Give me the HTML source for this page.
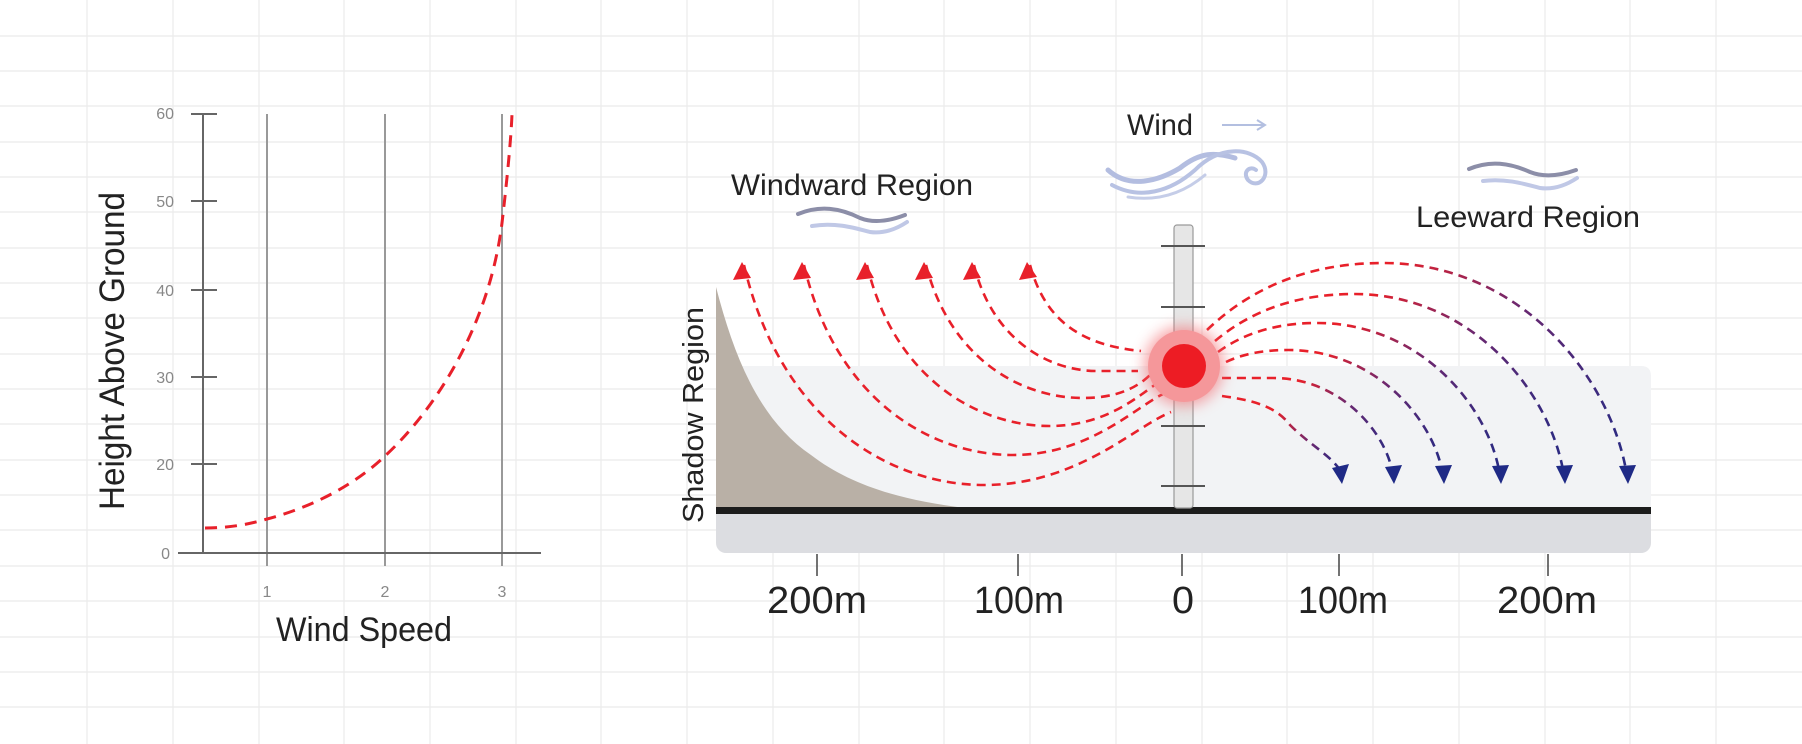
<!DOCTYPE html>
<html><head><meta charset="utf-8"><style>
html,body{margin:0;padding:0;background:#fff;}
svg{display:block;}
text{font-family:"Liberation Sans",sans-serif;}
</style></head><body>
<svg width="1802" height="744" viewBox="0 0 1802 744" xmlns="http://www.w3.org/2000/svg">
<defs>
<linearGradient id="rg" x1="0" y1="0" x2="1" y2="0">
<stop offset="0" stop-color="#e8202a"/><stop offset="0.45" stop-color="#e8202a"/>
<stop offset="0.75" stop-color="#6a2870"/><stop offset="1" stop-color="#2a2a82"/></linearGradient>
<filter id="blur" x="-1" y="-1" width="3" height="3"><feGaussianBlur stdDeviation="7"/></filter>
</defs>
<!-- grid -->
<g stroke="#ebebeb" stroke-width="1.2">
<line x1="87" y1="0" x2="87" y2="744"/><line x1="173" y1="0" x2="173" y2="744"/><line x1="259" y1="0" x2="259" y2="744"/><line x1="344" y1="0" x2="344" y2="744"/><line x1="430" y1="0" x2="430" y2="744"/><line x1="516" y1="0" x2="516" y2="744"/><line x1="601" y1="0" x2="601" y2="744"/><line x1="687" y1="0" x2="687" y2="744"/><line x1="773" y1="0" x2="773" y2="744"/><line x1="859" y1="0" x2="859" y2="744"/><line x1="944" y1="0" x2="944" y2="744"/><line x1="1030" y1="0" x2="1030" y2="744"/><line x1="1116" y1="0" x2="1116" y2="744"/><line x1="1202" y1="0" x2="1202" y2="744"/><line x1="1287" y1="0" x2="1287" y2="744"/><line x1="1373" y1="0" x2="1373" y2="744"/><line x1="1459" y1="0" x2="1459" y2="744"/><line x1="1545" y1="0" x2="1545" y2="744"/><line x1="1630" y1="0" x2="1630" y2="744"/><line x1="1716" y1="0" x2="1716" y2="744"/>
<line x1="0" y1="36" x2="1802" y2="36"/><line x1="0" y1="71" x2="1802" y2="71"/><line x1="0" y1="106" x2="1802" y2="106"/><line x1="0" y1="142" x2="1802" y2="142"/><line x1="0" y1="177" x2="1802" y2="177"/><line x1="0" y1="212" x2="1802" y2="212"/><line x1="0" y1="248" x2="1802" y2="248"/><line x1="0" y1="283" x2="1802" y2="283"/><line x1="0" y1="318" x2="1802" y2="318"/><line x1="0" y1="354" x2="1802" y2="354"/><line x1="0" y1="389" x2="1802" y2="389"/><line x1="0" y1="424" x2="1802" y2="424"/><line x1="0" y1="460" x2="1802" y2="460"/><line x1="0" y1="495" x2="1802" y2="495"/><line x1="0" y1="530" x2="1802" y2="530"/><line x1="0" y1="566" x2="1802" y2="566"/><line x1="0" y1="601" x2="1802" y2="601"/><line x1="0" y1="637" x2="1802" y2="637"/><line x1="0" y1="672" x2="1802" y2="672"/><line x1="0" y1="707" x2="1802" y2="707"/>
</g>
<!-- left chart -->
<g stroke="#999" stroke-width="2"><line x1="267" y1="114" x2="267" y2="566"/><line x1="385" y1="114" x2="385" y2="566"/><line x1="502" y1="114" x2="502" y2="566"/></g>
<g stroke="#666" stroke-width="2">
<line x1="203" y1="114" x2="203" y2="553"/><line x1="178" y1="553" x2="541" y2="553"/>
<line x1="191" y1="114" x2="217" y2="114"/><line x1="191" y1="201" x2="217" y2="201"/><line x1="191" y1="290" x2="217" y2="290"/><line x1="191" y1="377" x2="217" y2="377"/><line x1="191" y1="464" x2="217" y2="464"/></g>
<g fill="#888" font-size="16" text-anchor="end">
<text x="174" y="119">60</text><text x="174" y="207">50</text><text x="174" y="296">40</text><text x="174" y="383">30</text><text x="174" y="470">20</text><text x="170" y="559">0</text></g>
<g fill="#888" font-size="16" text-anchor="middle"><text x="267" y="597">1</text><text x="385" y="597">2</text><text x="502" y="597">3</text></g>
<text x="364" y="641" font-size="34" text-anchor="middle" fill="#222" textLength="176" lengthAdjust="spacingAndGlyphs">Wind Speed</text>
<text transform="translate(124,351) rotate(-90)" font-size="35" text-anchor="middle" fill="#222" textLength="318" lengthAdjust="spacingAndGlyphs">Height Above Ground</text>
<path d="M205,528 C230,528 250,524 267,519 C320,505 360,480 385,456 C440,405 490,320 502,223 C507,180 511,140 512,114" fill="none" stroke="#e8202a" stroke-width="3" stroke-dasharray="12 8"/>
<!-- right diagram -->
<rect x="716" y="490" width="935" height="63" rx="10" fill="#dcdde1"/>
<path d="M716,366 L1641,366 Q1651,366 1651,376 L1651,508 L716,508 Z" fill="#f2f3f5"/>
<path d="M716,287 C735,360 760,420 811,455 C850,485 900,500 965,508 L716,508 Z" fill="#b9b0a6"/>
<rect x="716" y="507" width="935" height="7" fill="#1c1c1c"/>
<!-- pole -->
<rect x="1174" y="225" width="19" height="283" rx="3" fill="#e6e6e6" stroke="#9a9a9a" stroke-width="1.2"/>
<g stroke="#555" stroke-width="2"><line x1="1161" y1="246" x2="1205" y2="246"/><line x1="1161" y1="307" x2="1205" y2="307"/><line x1="1161" y1="426" x2="1205" y2="426"/><line x1="1161" y1="486" x2="1205" y2="486"/></g>
<!-- left arrows -->
<g fill="none" stroke="#e8202a" stroke-width="2.6" stroke-dasharray="9 6">
<path d="M744,265 C780,419 888,485 984,485 C1077,485 1134,427 1171,412"/>
<path d="M804,265 C835,398 929,455 1013,455 C1088,455 1133,409 1163,394"/>
<path d="M867,265 C894,378 977,426 1050,426 C1103,426 1135,399 1156,384"/>
<path d="M926,265 C950,358 1020,398 1083,398 C1118,398 1139,387 1153,372"/>
<path d="M974,265 C992,339 1048,371 1097,371 L1138,371"/>
<path d="M1030,265 C1045,320 1080,345 1141,351"/>
</g>
<g fill="#e8202a">
<polygon points="742,262 733,280 751,278"/><polygon points="802,262 793,280 811,278"/><polygon points="865,262 856,280 874,278"/><polygon points="924,262 915,280 933,278"/><polygon points="972,262 963,280 981,278"/><polygon points="1027,262 1019,280 1037,277"/>
</g>
<!-- right arrows -->
<g fill="none" stroke="url(#rg)" stroke-width="2.6" stroke-dasharray="9 6">
<path d="M1207,330 Q1277,263 1383,263 C1518,263 1608,373 1626,470"/>
<path d="M1215,341 Q1271,294 1354,294 C1470,294 1548,389 1563,470"/>
<path d="M1218,352 Q1258,323 1317,323 C1418,323 1486,403 1499,470"/>
<path d="M1226,362 Q1251,350 1288,350 C1374,350 1431,417 1442,470"/>
<path d="M1222,378 Q1242,378 1273,378 C1340,378 1384,431 1392,470"/>
<path d="M1222,396 C1250,400 1275,405 1290,425 C1310,445 1330,455 1340,470"/>
</g>
<g fill="#1f2a86">
<polygon points="1628,484 1619,466 1636,465"/><polygon points="1565,484 1556,466 1573,465"/><polygon points="1501,484 1492,466 1509,465"/><polygon points="1444,484 1435,466 1452,465"/><polygon points="1394,484 1385,467 1402,465"/><polygon points="1342,484 1332,468 1349,464"/>
</g>
<!-- source -->
<circle cx="1184" cy="366" r="40" fill="#f36b70" opacity="0.6" filter="url(#blur)"/>
<circle cx="1184" cy="366" r="36" fill="#f5979a"/>
<circle cx="1184" cy="366" r="22" fill="#ed1c24"/>
<!-- axis ticks & labels -->
<g stroke="#444" stroke-width="1.5"><line x1="817" y1="554" x2="817" y2="576"/><line x1="1018" y1="554" x2="1018" y2="576"/><line x1="1182" y1="554" x2="1182" y2="576"/><line x1="1339" y1="554" x2="1339" y2="576"/><line x1="1548" y1="554" x2="1548" y2="576"/></g>
<g font-size="38" fill="#222" text-anchor="middle">
<text x="817" y="613" textLength="100" lengthAdjust="spacingAndGlyphs">200m</text><text x="1019" y="613" textLength="90" lengthAdjust="spacingAndGlyphs">100m</text><text x="1183" y="613" textLength="22" lengthAdjust="spacingAndGlyphs">0</text><text x="1343" y="613" textLength="90" lengthAdjust="spacingAndGlyphs">100m</text><text x="1547" y="613" textLength="100" lengthAdjust="spacingAndGlyphs">200m</text></g>
<text x="1160" y="135" font-size="30" fill="#222" text-anchor="middle" textLength="66" lengthAdjust="spacingAndGlyphs">Wind</text>
<g stroke="#b3bfe0" stroke-width="2" fill="none"><line x1="1222" y1="125" x2="1264" y2="125"/><polyline points="1257,120 1265,125 1257,130"/></g>
<text x="852" y="195" font-size="30" fill="#222" text-anchor="middle" textLength="242" lengthAdjust="spacingAndGlyphs">Windward Region</text>
<text x="1528" y="227" font-size="30" fill="#222" text-anchor="middle" textLength="224" lengthAdjust="spacingAndGlyphs">Leeward Region</text>
<text transform="translate(703,415) rotate(-90)" font-size="29" fill="#222" text-anchor="middle" textLength="216" lengthAdjust="spacingAndGlyphs">Shadow Region</text>
<!-- wind swirls -->
<g fill="none" stroke-linecap="round">
<path d="M1108,170 C1130,190 1160,180 1180,168 C1200,152 1215,152 1235,158" stroke="#b3bde0" stroke-width="5"/>
<path d="M1112,185 C1140,200 1170,192 1195,170 C1220,145 1250,148 1262,162 C1272,176 1258,190 1248,180 C1242,172 1250,165 1256,170" stroke="#b8c2e3" stroke-width="4"/>
<path d="M1128,197 C1160,202 1185,192 1205,175" stroke="#c5cde8" stroke-width="3"/>
<path d="M798,214 C820,205 840,208 860,218 C875,224 892,220 905,215" stroke="#8c8ea8" stroke-width="4"/>
<path d="M812,226 C835,222 855,228 870,232 C885,234 898,228 907,222" stroke="#c0c8e6" stroke-width="4"/>
<path d="M1469,169 C1490,160 1510,163 1530,172 C1545,178 1562,175 1576,170" stroke="#8c8ea8" stroke-width="4"/>
<path d="M1483,181 C1505,178 1525,184 1540,188 C1555,190 1568,184 1577,178" stroke="#c0c8e6" stroke-width="4"/>
</g>
</svg>
</body></html>
